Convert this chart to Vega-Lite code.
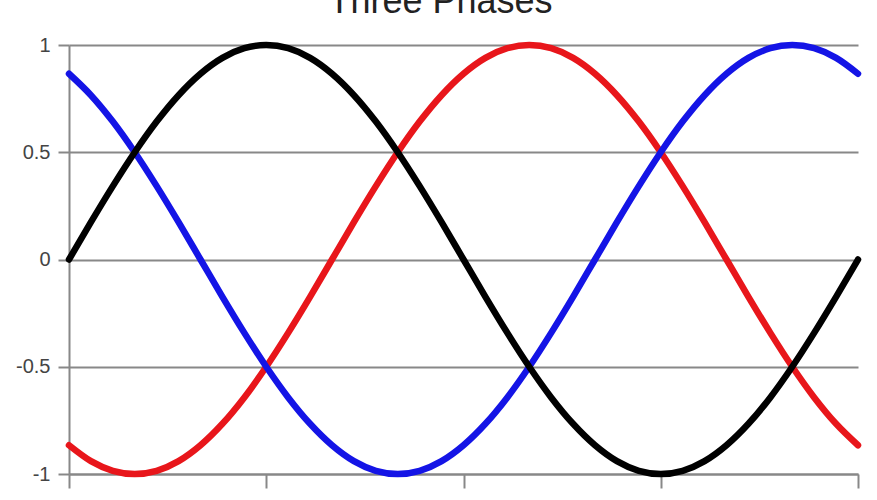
{
  "$schema": "https://vega.github.io/schema/vega-lite/v6.json",
  "autosize": "none",
  "width": 789,
  "height": 429,
  "padding": {"left": 69, "top": 45, "right": 19, "bottom": 26},
  "background": "white",
  "title": {
    "text": "Three Phases",
    "font": "Liberation Sans",
    "fontSize": 36,
    "fontWeight": "normal",
    "color": "#222222",
    "anchor": "middle",
    "frame": "group",
    "baseline": "alphabetic",
    "offset": -14,
    "dx": -23
  },
  "config": {
    "view": {"stroke": null},
    "axis": {
      "labelFont": "Liberation Sans",
      "labelFontSize": 20,
      "labelColor": "#444444",
      "domainColor": "#888888",
      "domainWidth": 2,
      "tickColor": "#888888",
      "tickWidth": 2,
      "gridColor": "#888888",
      "gridWidth": 2,
      "gridOpacity": 1,
      "title": null
    }
  },
  "data": {
    "values": [
      {"deg": 0, "v": -0.866, "phase": "red"},
      {"deg": 10, "v": -0.94, "phase": "red"},
      {"deg": 20, "v": -0.985, "phase": "red"},
      {"deg": 30, "v": -1, "phase": "red"},
      {"deg": 40, "v": -0.985, "phase": "red"},
      {"deg": 50, "v": -0.94, "phase": "red"},
      {"deg": 60, "v": -0.866, "phase": "red"},
      {"deg": 70, "v": -0.766, "phase": "red"},
      {"deg": 80, "v": -0.643, "phase": "red"},
      {"deg": 90, "v": -0.5, "phase": "red"},
      {"deg": 100, "v": -0.342, "phase": "red"},
      {"deg": 110, "v": -0.174, "phase": "red"},
      {"deg": 120, "v": 0, "phase": "red"},
      {"deg": 130, "v": 0.174, "phase": "red"},
      {"deg": 140, "v": 0.342, "phase": "red"},
      {"deg": 150, "v": 0.5, "phase": "red"},
      {"deg": 160, "v": 0.643, "phase": "red"},
      {"deg": 170, "v": 0.766, "phase": "red"},
      {"deg": 180, "v": 0.866, "phase": "red"},
      {"deg": 190, "v": 0.94, "phase": "red"},
      {"deg": 200, "v": 0.985, "phase": "red"},
      {"deg": 210, "v": 1, "phase": "red"},
      {"deg": 220, "v": 0.985, "phase": "red"},
      {"deg": 230, "v": 0.94, "phase": "red"},
      {"deg": 240, "v": 0.866, "phase": "red"},
      {"deg": 250, "v": 0.766, "phase": "red"},
      {"deg": 260, "v": 0.643, "phase": "red"},
      {"deg": 270, "v": 0.5, "phase": "red"},
      {"deg": 280, "v": 0.342, "phase": "red"},
      {"deg": 290, "v": 0.174, "phase": "red"},
      {"deg": 300, "v": 0, "phase": "red"},
      {"deg": 310, "v": -0.174, "phase": "red"},
      {"deg": 320, "v": -0.342, "phase": "red"},
      {"deg": 330, "v": -0.5, "phase": "red"},
      {"deg": 340, "v": -0.643, "phase": "red"},
      {"deg": 350, "v": -0.766, "phase": "red"},
      {"deg": 360, "v": -0.866, "phase": "red"},

      {"deg": 0, "v": 0.866, "phase": "blue"},
      {"deg": 10, "v": 0.766, "phase": "blue"},
      {"deg": 20, "v": 0.643, "phase": "blue"},
      {"deg": 30, "v": 0.5, "phase": "blue"},
      {"deg": 40, "v": 0.342, "phase": "blue"},
      {"deg": 50, "v": 0.174, "phase": "blue"},
      {"deg": 60, "v": 0, "phase": "blue"},
      {"deg": 70, "v": -0.174, "phase": "blue"},
      {"deg": 80, "v": -0.342, "phase": "blue"},
      {"deg": 90, "v": -0.5, "phase": "blue"},
      {"deg": 100, "v": -0.643, "phase": "blue"},
      {"deg": 110, "v": -0.766, "phase": "blue"},
      {"deg": 120, "v": -0.866, "phase": "blue"},
      {"deg": 130, "v": -0.94, "phase": "blue"},
      {"deg": 140, "v": -0.985, "phase": "blue"},
      {"deg": 150, "v": -1, "phase": "blue"},
      {"deg": 160, "v": -0.985, "phase": "blue"},
      {"deg": 170, "v": -0.94, "phase": "blue"},
      {"deg": 180, "v": -0.866, "phase": "blue"},
      {"deg": 190, "v": -0.766, "phase": "blue"},
      {"deg": 200, "v": -0.643, "phase": "blue"},
      {"deg": 210, "v": -0.5, "phase": "blue"},
      {"deg": 220, "v": -0.342, "phase": "blue"},
      {"deg": 230, "v": -0.174, "phase": "blue"},
      {"deg": 240, "v": 0, "phase": "blue"},
      {"deg": 250, "v": 0.174, "phase": "blue"},
      {"deg": 260, "v": 0.342, "phase": "blue"},
      {"deg": 270, "v": 0.5, "phase": "blue"},
      {"deg": 280, "v": 0.643, "phase": "blue"},
      {"deg": 290, "v": 0.766, "phase": "blue"},
      {"deg": 300, "v": 0.866, "phase": "blue"},
      {"deg": 310, "v": 0.94, "phase": "blue"},
      {"deg": 320, "v": 0.985, "phase": "blue"},
      {"deg": 330, "v": 1, "phase": "blue"},
      {"deg": 340, "v": 0.985, "phase": "blue"},
      {"deg": 350, "v": 0.94, "phase": "blue"},
      {"deg": 360, "v": 0.866, "phase": "blue"},

      {"deg": 0, "v": 0, "phase": "black"},
      {"deg": 10, "v": 0.174, "phase": "black"},
      {"deg": 20, "v": 0.342, "phase": "black"},
      {"deg": 30, "v": 0.5, "phase": "black"},
      {"deg": 40, "v": 0.643, "phase": "black"},
      {"deg": 50, "v": 0.766, "phase": "black"},
      {"deg": 60, "v": 0.866, "phase": "black"},
      {"deg": 70, "v": 0.94, "phase": "black"},
      {"deg": 80, "v": 0.985, "phase": "black"},
      {"deg": 90, "v": 1, "phase": "black"},
      {"deg": 100, "v": 0.985, "phase": "black"},
      {"deg": 110, "v": 0.94, "phase": "black"},
      {"deg": 120, "v": 0.866, "phase": "black"},
      {"deg": 130, "v": 0.766, "phase": "black"},
      {"deg": 140, "v": 0.643, "phase": "black"},
      {"deg": 150, "v": 0.5, "phase": "black"},
      {"deg": 160, "v": 0.342, "phase": "black"},
      {"deg": 170, "v": 0.174, "phase": "black"},
      {"deg": 180, "v": 0, "phase": "black"},
      {"deg": 190, "v": -0.174, "phase": "black"},
      {"deg": 200, "v": -0.342, "phase": "black"},
      {"deg": 210, "v": -0.5, "phase": "black"},
      {"deg": 220, "v": -0.643, "phase": "black"},
      {"deg": 230, "v": -0.766, "phase": "black"},
      {"deg": 240, "v": -0.866, "phase": "black"},
      {"deg": 250, "v": -0.94, "phase": "black"},
      {"deg": 260, "v": -0.985, "phase": "black"},
      {"deg": 270, "v": -1, "phase": "black"},
      {"deg": 280, "v": -0.985, "phase": "black"},
      {"deg": 290, "v": -0.94, "phase": "black"},
      {"deg": 300, "v": -0.866, "phase": "black"},
      {"deg": 310, "v": -0.766, "phase": "black"},
      {"deg": 320, "v": -0.643, "phase": "black"},
      {"deg": 330, "v": -0.5, "phase": "black"},
      {"deg": 340, "v": -0.342, "phase": "black"},
      {"deg": 350, "v": -0.174, "phase": "black"},
      {"deg": 360, "v": 0, "phase": "black"}
    ]
  },
  "mark": {"type": "line", "strokeWidth": 6.5, "strokeJoin": "round", "strokeCap": "round", "interpolate": "monotone", "clip": false},
  "encoding": {
    "x": {
      "field": "deg",
      "type": "quantitative",
      "scale": {"domain": [0, 360], "nice": false, "zero": false},
      "axis": {
        "values": [0, 90, 180, 270, 360],
        "grid": false,
        "tickSize": 14,
        "labelPadding": 9,
        "labelFlush": false
      }
    },
    "y": {
      "field": "v",
      "type": "quantitative",
      "scale": {"domain": [-1, 1], "nice": false},
      "axis": {
        "values": [-1, -0.5, 0, 0.5, 1],
        "labelExpr": "'' + datum.value",
        "tickSize": 11,
        "labelPadding": 8,
        "grid": true
      }
    },
    "color": {
      "field": "phase",
      "type": "nominal",
      "scale": {"domain": ["red", "blue", "black"], "range": ["#e8161b", "#1414e6", "#000000"]},
      "legend": null
    },
    "order": {"field": "deg", "type": "quantitative"}
  }
}
